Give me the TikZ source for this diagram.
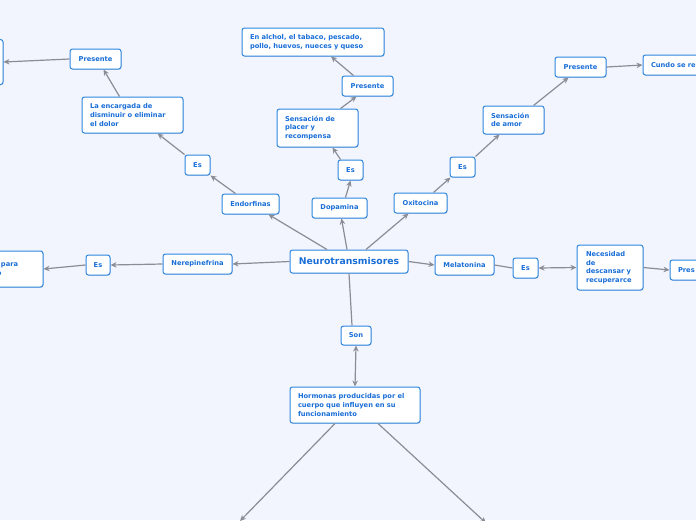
\documentclass[tikz,border=0pt]{standalone}
\usepackage{fontspec}
\setmainfont{DejaVu Sans}
\usetikzlibrary{arrows.meta,shadows}
\definecolor{bg}{RGB}{242,245,254}
\definecolor{bd}{RGB}{45,135,225}
\definecolor{tx}{RGB}{25,110,215}
\definecolor{ln}{RGB}{138,140,150}
\begin{document}
\begin{tikzpicture}[x=1pt,y=-1pt,
  box/.style={draw=bd, line width=1pt, fill=white, rounded corners=2.5pt, text=tx,
    font=\fontsize{6.7}{8.7}\selectfont\bfseries, inner sep=0pt,
    drop shadow={shadow xshift=0.7pt,shadow yshift=-0.9pt,opacity=0.25}},
  mbox/.style={box, align=left, inner xsep=8pt, inner ysep=0pt},
  plain/.style={draw=ln, line width=1.2pt},
  conn/.style={plain, -{Stealth[length=6pt,width=5.5pt]}},
  both/.style={plain, {Stealth[length=6pt,width=5.5pt]}-{Stealth[length=6pt,width=5.5pt]}}
]
\useasboundingbox (0,0) rectangle (696,520);
\fill[bg] (0,0) rectangle (696,520);

% nodes
\node[box, minimum width=118pt, minimum height=23pt, font=\fontsize{9.3}{11}\selectfont\bfseries] (neuro) at (349,261.5) {Neurotransmisores};
\node[box, minimum width=57pt, minimum height=20pt] (endorf) at (250.5,204) {Endorfinas};
\node[box, minimum width=55pt, minimum height=20pt] (dopa) at (339.5,208) {Dopamina};
\node[box, minimum width=53pt, minimum height=20pt] (oxi) at (420.5,203) {Oxitocina};
\node[box, minimum width=69pt, minimum height=20pt] (nere) at (197.5,264) {Nerepinefrina};
\node[box, minimum width=59pt, minimum height=20pt] (mela) at (464.5,265) {Melatonina};
\node[box, minimum width=24pt, minimum height=20pt] (esL) at (98,265) {Es};
\node[mbox, text width=86pt, minimum height=36pt] (lbox) at (-8,269) {\hspace*{52pt}para\\\hspace*{48pt}o};
\node[box, minimum width=25pt, minimum height=20pt] (esE) at (197.5,165) {Es};
\node[mbox, text width=85pt, minimum height=36pt] (enc) at (132.5,115) {La encargada de\\disminuir o eliminar\\el dolor};
\node[box, minimum width=51pt, minimum height=20pt] (presL) at (95.5,59) {Presente};
\node[box, minimum width=46pt, minimum height=45pt] (tl) at (-20,62) {};
\node[box, minimum width=25pt, minimum height=20pt] (esD) at (350.5,170) {Es};
\node[mbox, text width=65pt, minimum height=38pt] (sens) at (317.5,128) {Sensación de\\placer y\\recompensa};
\node[box, minimum width=51pt, minimum height=20pt] (presD) at (367.5,86) {Presente};
\node[mbox, text width=126pt, minimum height=28pt] (alc) at (313,42) {En alchol, el tabaco, pescado,\\pollo, huevos, nueces y queso};
\node[box, minimum width=25pt, minimum height=20pt] (esO) at (462.5,167) {Es};
\node[mbox, text width=45pt, minimum height=28pt] (amor) at (513.5,120) {Sensación\\de amor};
\node[box, minimum width=51pt, minimum height=20pt] (presO) at (580.5,67) {Presente};
\node[mbox, text width=64pt, minimum height=20pt] (cundo) at (683,65) {Cundo se re};
\node[box, minimum width=25pt, minimum height=20pt] (esM) at (525.5,268) {Es};
\node[mbox, text width=48pt, inner xsep=9pt, minimum height=45pt] (nec) at (610,267.5) {Necesidad\\de\\descansar y\\recuperarce};
\node[mbox, text width=35pt, minimum height=20pt] (presM) at (695.5,270) {Pres};
\node[box, minimum width=30pt, minimum height=19pt] (son) at (356,335.5) {Son};
\node[mbox, text width=114pt, minimum height=36pt] (horm) at (355,405) {Hormonas producidas por el\\cuerpo que influyen en su\\funcionamiento};
\coordinate (bl) at (240,521);
\coordinate (br) at (486,523);

% connectors
\draw[conn] ([xshift=-22pt]neuro.north) -- ([xshift=18pt]endorf.south);
\draw[conn] ([xshift=-2pt]neuro.north) -- ([xshift=2pt]dopa.south);
\draw[conn] ([xshift=17pt]neuro.north) -- ([xshift=-12pt]oxi.south);
\draw[conn] (neuro.west) -- (nere.east);
\draw[conn] (neuro.east) -- (mela.west);
\draw[plain] (neuro.south) -- ([xshift=-4pt]son.north);
\draw[both] (son.south) -- (horm.north);
\draw[conn] ([xshift=-20pt]horm.south) -- (bl);
\draw[conn] ([xshift=23pt]horm.south) -- (br);
\draw[conn] (nere.west) -- (esL.east);
\draw[conn] (esL.west) -- (lbox.east);
\draw[conn] ([xshift=-15pt]endorf.north) -- (esE.south east);
\draw[conn] (esE.north west) -- ([xshift=25pt]enc.south);
\draw[conn] ([xshift=-13pt]enc.north) -- ([xshift=8pt]presL.south);
\draw[conn] (presL.west) -- (tl.east);
\draw[conn] ([xshift=6pt]dopa.north) -- (esD.south);
\draw[conn] ([xshift=3pt]esD.north west) -- ([xshift=15pt]sens.south);
\draw[conn] ([xshift=23pt]sens.north) -- ([xshift=-11pt]presD.south);
\draw[conn] ([xshift=-14pt]presD.north) -- ([xshift=18pt]alc.south);
\draw[conn] ([xshift=13pt]oxi.north) -- ([xshift=1pt]esO.south west);
\draw[conn] (esO.north east) -- ([xshift=-14pt]amor.south);
\draw[conn] ([xshift=20pt]amor.north) -- ([xshift=-12pt]presO.south);
\draw[conn] (presO.east) -- (cundo.west);
\draw[plain] (mela.east) -- (esM.west);
\draw[both] (esM.east) -- (nec.west);
\draw[conn] (nec.east) -- (presM.west);
\end{tikzpicture}
\end{document}
